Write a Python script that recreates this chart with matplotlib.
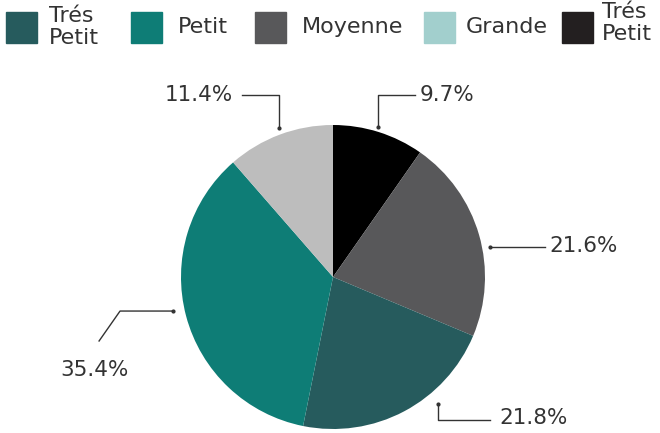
import matplotlib
matplotlib.use("Agg")
import matplotlib.pyplot as plt
from matplotlib.patches import Rectangle

# ── data ─────────────────────────────────────────
slice_values = [9.7, 21.6, 21.8, 35.4, 11.4]
slice_colors = ["#000000", "#58585a", "#265b5d", "#0e7d76", "#bdbdbd"]
slice_labels = ["9.7%", "21.6%", "21.8%", "35.4%", "11.4%"]

legend_labels = ["Trés\nPetit", "Petit", "Moyenne", "Grande", "Trés\nPetit"]
legend_colors = ["#265b5d", "#0e7d76", "#58585a", "#a2cfcd", "#231f20"]

TXT = "#333333"
plt.rcParams["font.family"] = ["DejaVu Sans"]

W, H = 660, 433
fig = plt.figure(figsize=(W / 100, H / 100), dpi=100)

# pie axes: centre (333, 277) px, radius 152 px
cx, cy, r = 333, 277, 152
ax = fig.add_axes([(cx - r) / W, (H - cy - r) / H, 2 * r / W, 2 * r / H])
ax.pie(slice_values, colors=slice_colors, startangle=90, counterclock=False,
       radius=1, wedgeprops=dict(linewidth=0))
ax.set_xlim(-1, 1)
ax.set_ylim(-1, 1)
ax.set_aspect("equal")
ax.axis("off")

# leader lines (data coords, radius = 1): path points, text pos, alignment
leaders = [
    ([(0.296, 0.987), (0.296, 1.197), (0.539, 1.197)], (0.572, 1.197), "left"),
    ([(1.033, 0.197), (1.395, 0.197)], (1.421, 0.205), "left"),
    ([(0.691, -0.836), (0.691, -0.941), (1.033, -0.941)], (1.092, -0.928), "left"),
    ([(-1.053, -0.224), (-1.401, -0.224), (-1.539, -0.421)], (-1.566, -0.612), "center"),
    ([(-0.355, 0.980), (-0.355, 1.197), (-0.599, 1.197)], (-0.658, 1.197), "right"),
]
for lab, (pts, tpos, ha) in zip(slice_labels, leaders):
    xs = [p[0] for p in pts]
    ys = [p[1] for p in pts]
    ax.plot(xs, ys, color=TXT, lw=1, clip_on=False)
    ax.plot(xs[0], ys[0], "o", color=TXT, ms=2, clip_on=False)
    ax.text(tpos[0], tpos[1], lab, ha=ha, va="center", fontsize=15.5,
            color=TXT, clip_on=False)

# legend drawn across the top
box_x = [6, 131, 255, 424, 562]
text_x = [49, 178, 302, 466, 602]
text_y = [27, 27, 27, 27, 23]
for lab, col, bx, tx, ty in zip(legend_labels, legend_colors, box_x, text_x, text_y):
    fig.patches.append(Rectangle((bx / W, (H - 43) / H), 31 / W, 31 / H,
                                 transform=fig.transFigure, color=col))
    fig.text(tx / W, (H - ty) / H, lab, ha="left", va="center", fontsize=16,
             color=TXT, linespacing=1.15)

fig.savefig("out.png", dpi=100)
